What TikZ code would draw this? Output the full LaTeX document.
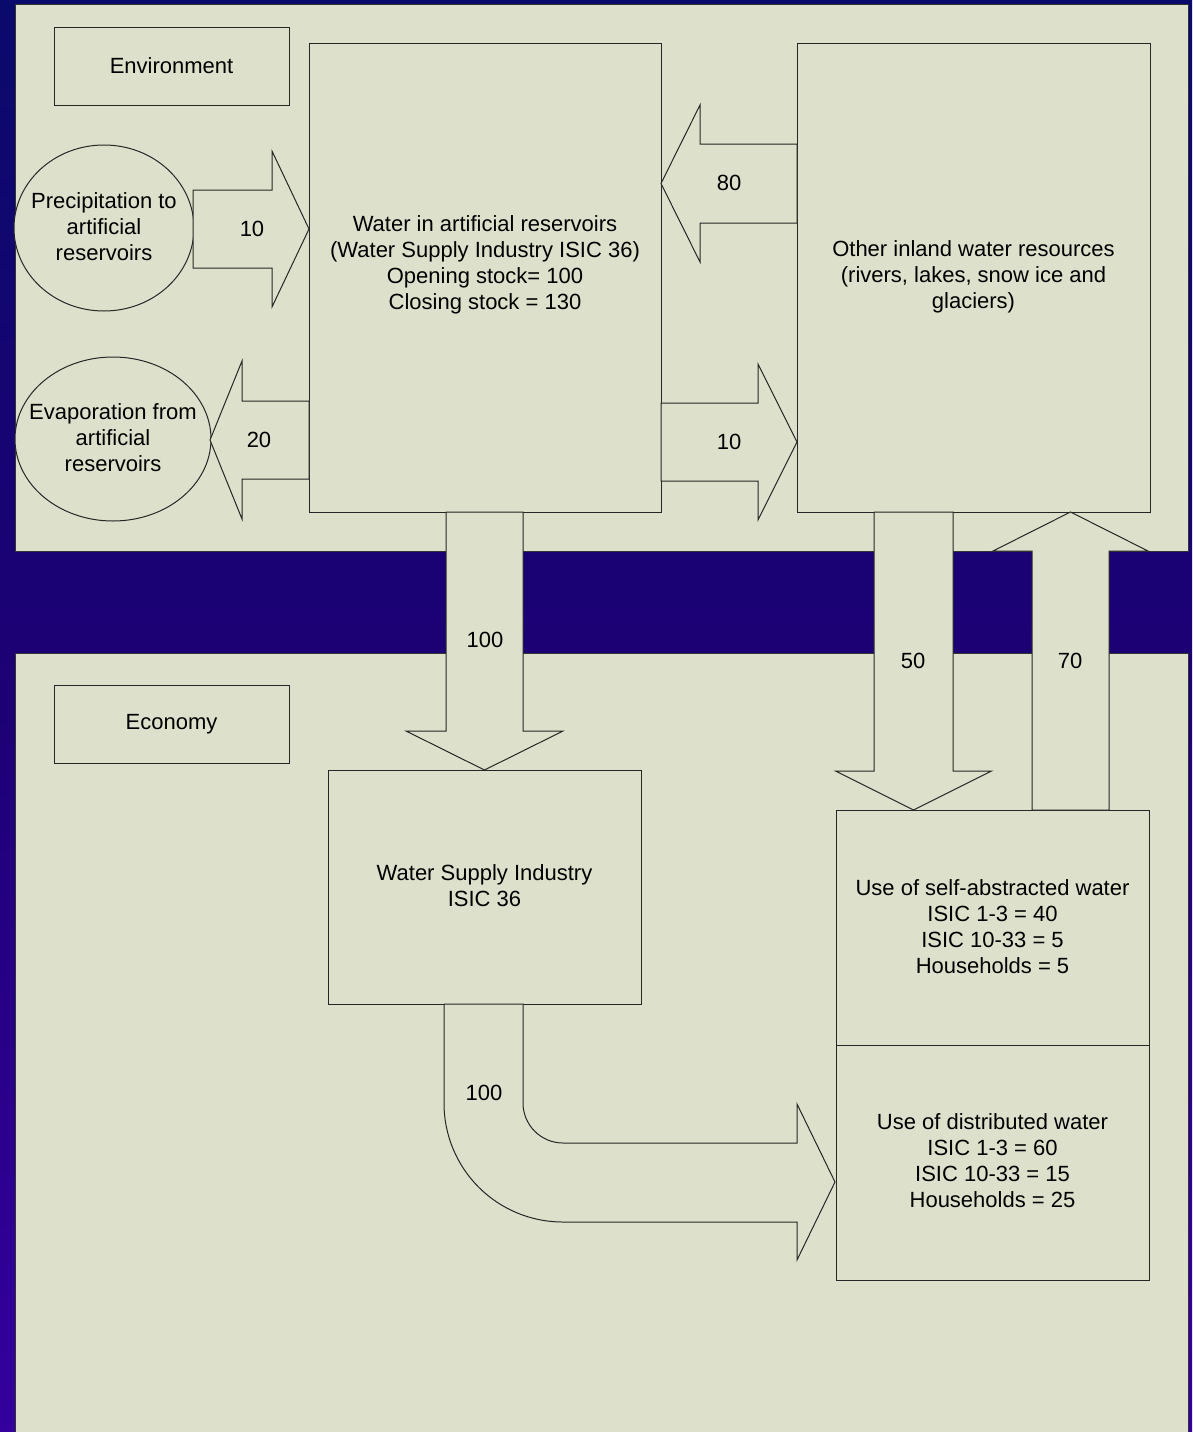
\documentclass[tikz,border=0pt]{standalone}
\usepackage{fontspec}
\setmainfont{Liberation Sans}
\usetikzlibrary{shapes.geometric}
\definecolor{panel}{RGB}{221,225,203}
\definecolor{bgtop}{RGB}{10,10,108}
\definecolor{bgmid}{RGB}{30,0,118}
\definecolor{bgbot}{RGB}{52,0,158}
\newcommand{\harr}[6]{% tail x, head-base x, tip x, center y, shaft half, head half
  \filldraw[blockarrow] (#1,#4-#5) -- (#2,#4-#5) -- (#2,#4-#6) -- (#3,#4) -- (#2,#4+#6) -- (#2,#4+#5) -- (#1,#4+#5) -- cycle;}
\newcommand{\varr}[6]{% tail y, head-base y, tip y, center x, shaft half, head half
  \filldraw[blockarrow] (#4-#5,#1) -- (#4-#5,#2) -- (#4-#6,#2) -- (#4,#3) -- (#4+#6,#2) -- (#4+#5,#2) -- (#4+#5,#1) -- cycle;}
\begin{document}
\begin{tikzpicture}[x=1pt,y=-1pt,
  every node/.style={font=\fontsize{22}{26}\selectfont, text=black},
  box/.style={draw=black!85, line width=1pt, fill=panel, rectangle, inner sep=0pt},
  oval/.style={draw=black!85, line width=1pt, fill=panel, ellipse, inner sep=0pt},
  blockarrow/.style={draw=black!85, line width=1pt, fill=panel, line join=miter},
  txt/.style={align=center, inner sep=0pt},
  lbl/.style={inner sep=0pt}]
\useasboundingbox (0,0) rectangle (1192,1432);
% background
\fill[top color=bgtop, bottom color=bgbot, middle color=bgmid] (0,0) rectangle (1192,1432);
% panels
\filldraw[fill=panel, draw=black!80, line width=1pt] (15,4) rectangle (1188,551);
\filldraw[fill=panel, draw=black!80, line width=1pt] (15,653) rectangle (1188,1440);

% label boxes
\node[box, minimum width=235pt, minimum height=78pt] (env) at (171.5,66) {Environment};
\node[box, minimum width=235pt, minimum height=78pt] (eco) at (171.5,724) {Economy};

% main boxes
\node[box, minimum width=352pt, minimum height=469pt] (res) at (485,277.5) {};
\node[txt] (resT) at (485,265) {\fontsize{22}{25}\selectfont Water in artificial reservoirs\\\fontsize{22}{25}\selectfont (Water Supply Industry ISIC 36)\\\fontsize{22}{25}\selectfont Opening stock= 100\\\fontsize{22}{25}\selectfont Closing stock = 130};
\node[box, minimum width=353pt, minimum height=469pt] (oth) at (973.5,277.5) {};
\node[txt] (othT) at (973.5,277) {Other inland water resources\\(rivers, lakes, snow ice and\\glaciers)};
\node[box, minimum width=313pt, minimum height=234pt] (wsi) at (484.5,887) {};
\node[txt] (wsiT) at (484.5,886) {Water Supply Industry\\ISIC 36};
\node[box, minimum width=313pt, minimum height=235pt] (self) at (992.5,927.5) {};
\node[txt] (selfT) at (992.5,927) {Use of self-abstracted water\\ISIC 1-3 = 40\\ISIC 10-33 = 5\\Households = 5};
\node[box, minimum width=313pt, minimum height=235pt] (dist) at (992.5,1162.5) {};
\node[txt] (distT) at (992.5,1161) {Use of distributed water\\ISIC 1-3 = 60\\ISIC 10-33 = 15\\Households = 25};

% ellipses
\node[oval, minimum width=180pt, minimum height=166pt] (pre) at (104,228) {};
\node[txt] (preT) at (104,227) {Precipitation to\\artificial\\reservoirs};
\node[oval, minimum width=196pt, minimum height=164pt] (eva) at (113,439) {};
\node[txt] (evaT) at (113,438) {Evaporation from\\artificial\\reservoirs};

% block arrows
\harr{193}{272}{309}{229}{39}{78}
\node[lbl] (l10a) at (252,229) {10};
\harr{309}{242}{210}{440}{39}{79}
\node[lbl] (l20) at (259,440) {20};
\harr{797}{700}{661}{183.5}{39.5}{78.5}
\node[lbl] (l80) at (729,183) {80};
\harr{661}{758}{797}{442}{39}{78}
\node[lbl] (l10b) at (729,442) {10};
\varr{512}{731}{770}{484.5}{38.5}{78.5}
\node[lbl] (l100a) at (485,640) {100};
\varr{512}{771}{810}{913.5}{39.5}{78}
\node[lbl] (l50) at (913,661) {50};
\varr{810}{551}{512}{1070.5}{38.5}{77.5}
\node[lbl] (l70) at (1070,661) {70};

% curved arrow from WSI to distributed water
\filldraw[blockarrow] (444,1004) -- (523,1004) -- (523,1103)
  .. controls (523,1125) and (541,1143) .. (563,1143)
  -- (797,1143) -- (797,1104) -- (835,1182) -- (797,1260) -- (797,1222) -- (563,1222)
  .. controls (497,1222) and (444,1169) .. (444,1103) -- cycle;
\node[lbl] (l100b) at (484,1093) {100};
\end{tikzpicture}
\end{document}
